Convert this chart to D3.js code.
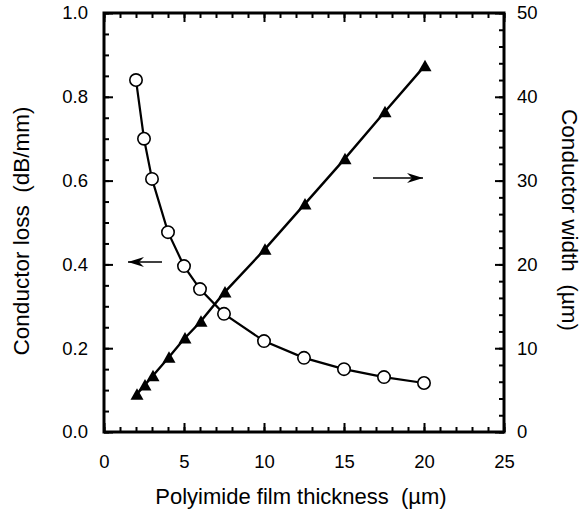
<!DOCTYPE html>
<html><head><meta charset="utf-8">
<script src="https://cdn.jsdelivr.net/npm/d3@7"></script>
<style>body{margin:0;background:#fff}svg{display:block}text{font-family:"Liberation Sans",Arial,sans-serif;fill:#000}</style>
</head><body><svg id="c" width="583" height="511"></svg>
<script>
const thickness = [2, 2.5, 3, 4, 5, 6, 7.5, 10, 12.5, 15, 17.5, 20];
const lossValues = [0.84, 0.70, 0.604, 0.477, 0.396, 0.341, 0.282, 0.217, 0.177, 0.150, 0.131, 0.117];
const widthValues = [4.4, 5.5, 6.6, 8.8, 11.1, 13.1, 16.6, 21.7, 27.1, 32.5, 38.1, 43.6];
const xTicks = [0, 5, 10, 15, 20, 25];
const yLeftTicks = [0.0, 0.2, 0.4, 0.6, 0.8, 1.0];
const yRightTicks = [0, 10, 20, 30, 40, 50];

const svg = d3.select("#c");
const L = 104, R = 504, T = 13, B = 432;
const x = d3.scaleLinear().domain([0, 25]).range([L, R]);
const yL = d3.scaleLinear().domain([0, 1]).range([B, T]);
const yR = d3.scaleLinear().domain([0, 50]).range([B, T]);

function addAxis(mk, tf, major, minor, fmt, pad) {
  const gMinor = svg.append("g").attr("transform", tf)
    .call(mk().tickValues(minor).tickSize(-5).tickFormat(""));
  const gMajor = svg.append("g").attr("transform", tf)
    .call(mk().tickValues(major).tickSize(-9).tickFormat(fmt).tickPadding(pad));
  [gMinor, gMajor].forEach(g => {
    g.select(".domain").remove();
    g.selectAll("line").attr("stroke", "#000").attr("stroke-width", 2);
  });
  gMajor.selectAll("text").style("font-size", "18.5px");
  return gMajor;
}
const xMinor = d3.range(0, 25.01, 1);
const yLMinor = d3.range(0, 1.001, 0.05);
const yRMinor = d3.range(0, 50.01, 2);

addAxis(() => d3.axisBottom(x), `translate(0,${B})`, xTicks, xMinor, d3.format("d"), 23);
addAxis(() => d3.axisTop(x), `translate(0,${T})`, xTicks, xMinor, () => "", 10);
addAxis(() => d3.axisLeft(yL), `translate(${L},0)`, yLeftTicks, yLMinor, d3.format(".1f"), 16);
addAxis(() => d3.axisRight(yR), `translate(${R},0)`, yRightTicks, yRMinor, d3.format("d"), 13);

svg.append("rect").attr("x", L).attr("y", T).attr("width", R - L).attr("height", B - T)
  .attr("fill", "none").attr("stroke", "#000").attr("stroke-width", 3);

// Lines
const lossLine = d3.line().x((d, i) => x(thickness[i])).y(d => yL(d));
const widthLine = d3.line().x((d, i) => x(thickness[i])).y(d => yR(d));
svg.append("path").attr("d", widthLine(widthValues)).attr("fill", "none").attr("stroke", "#000").attr("stroke-width", 2.4);
svg.append("path").attr("d", lossLine(lossValues)).attr("fill", "none").attr("stroke", "#000").attr("stroke-width", 2.2);

svg.selectAll(".tri").data(widthValues).join("path")
  .attr("transform", (d, i) => `translate(${x(thickness[i]) + 1},${yR(d)})`)
  .attr("d", "M0,-7 L6.5,4.5 L-6.5,4.5 Z").attr("fill", "#000");
svg.selectAll(".circ").data(lossValues).join("circle")
  .attr("cx", (d, i) => x(thickness[i])).attr("cy", d => yL(d)).attr("r", 6.2)
  .attr("fill", "#fff").attr("stroke", "#000").attr("stroke-width", 1.6);

// Arrows
function arrow(x1, x2, y) {
  const dir = Math.sign(x2 - x1);
  svg.append("line").attr("x1", x1).attr("x2", x2).attr("y1", y).attr("y2", y)
    .attr("stroke", "#000").attr("stroke-width", 1.4);
  svg.append("path").attr("d", `M${x2},${y} L${x2 - dir * 16},${y - 5} L${x2 - dir * 11},${y} L${x2 - dir * 16},${y + 5} Z`)
    .attr("fill", "#000");
}
arrow(162, 128, 262);
arrow(373, 423, 178);

// Titles
svg.append("text").attr("x", 301).attr("y", 504).attr("text-anchor", "middle")
  .style("white-space", "pre").style("font-size", "22px").text("Polyimide film thickness  (\u00b5m)");
svg.append("text").attr("transform", `translate(29,231) rotate(-90)`).attr("text-anchor", "middle")
  .style("white-space", "pre").style("font-size", "22.5px").text("Conductor loss  (dB/mm)");
svg.append("text").attr("transform", `translate(562,220) rotate(90)`).attr("text-anchor", "middle")
  .style("white-space", "pre").style("font-size", "22.5px").text("Conductor width  (\u00b5m)");
</script></body></html>
